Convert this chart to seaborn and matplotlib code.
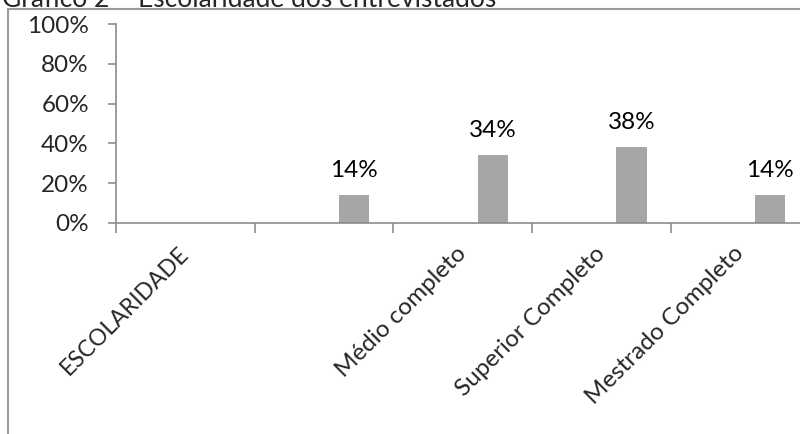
import numpy as np
import pandas as pd
import seaborn as sns
import matplotlib.pyplot as plt
from matplotlib.patches import Rectangle
from matplotlib.ticker import FixedLocator

# chart data
categories = ['ESCOLARIDADE', '', 'Médio completo', 'Superior Completo', 'Mestrado Completo']
values = [np.nan, 14, 34, 38, 14]
series_order = ['Série1', 'Série2', 'Série3']
shown_series = 'Série3'
y_ticks = [0, 20, 40, 60, 80, 100]
title = 'Gráfico 2 – Escolaridade dos entrevistados'

df = pd.DataFrame({'categoria': categories, 'valor': values, 'serie': shown_series})

sns.set_style('white')
plt.rcParams['font.family'] = ['Lato', 'DejaVu Sans']

fig = plt.figure(figsize=(8, 4.34), dpi=100)
ax = fig.add_axes([0.145, 0.4862, 0.8669, 0.4585])

sns.barplot(ax=ax, data=df, x='categoria', y='valor', hue='serie',
            order=categories, hue_order=series_order, palette=['#a6a6a6'] * 3,
            width=0.65, dodge=True, saturation=1, edgecolor='none', legend=False)

for cont in ax.containers:
    ax.bar_label(cont, fmt='%.0f%%', padding=10.5, fontsize=17.5, color='black')

ax.set_xlim(-0.5, len(categories) - 0.5)
ax.set_ylim(0, 100)
ax.set_yticks(y_ticks)
ax.set_yticklabels([f'{t}%' for t in y_ticks], fontsize=17.5)
ax.set_xlabel('')
ax.set_ylabel('')

ax.set_xticks(range(len(categories)))
ax.set_xticklabels(categories, rotation=45, ha='right', va='center',
                   rotation_mode='anchor', fontsize=17.5)
ax.get_xticklabels()[0].set_fontsize(16.5)
ax.xaxis.set_minor_locator(FixedLocator(np.arange(-0.5, len(categories), 1)))
ax.tick_params(axis='x', which='major', length=0, pad=19.5)
ax.tick_params(axis='x', which='minor', length=7, width=1.2, color='#8c8c8c', bottom=True)
ax.tick_params(axis='y', length=6, width=1.2, color='#8c8c8c', left=True, pad=13.5)

sns.despine(ax=ax)
for side in ['left', 'bottom']:
    ax.spines[side].set_color('#8c8c8c')
    ax.spines[side].set_linewidth(1.2)

# outer chart frame (cropped at the image edges)
fig.patches.append(Rectangle((8 / 800, -0.1), 1.2, 1 - 9 / 434 + 0.1, transform=fig.transFigure,
                             fill=False, edgecolor='#9a9a9a', linewidth=1.5))
# title sits mostly above the cropped image, as in the reference
fig.text(2 / 800, 1 - 7 / 434, title, family='Lato', fontsize=19,
         ha='left', va='baseline')

fig.savefig('out.png', dpi=100)
